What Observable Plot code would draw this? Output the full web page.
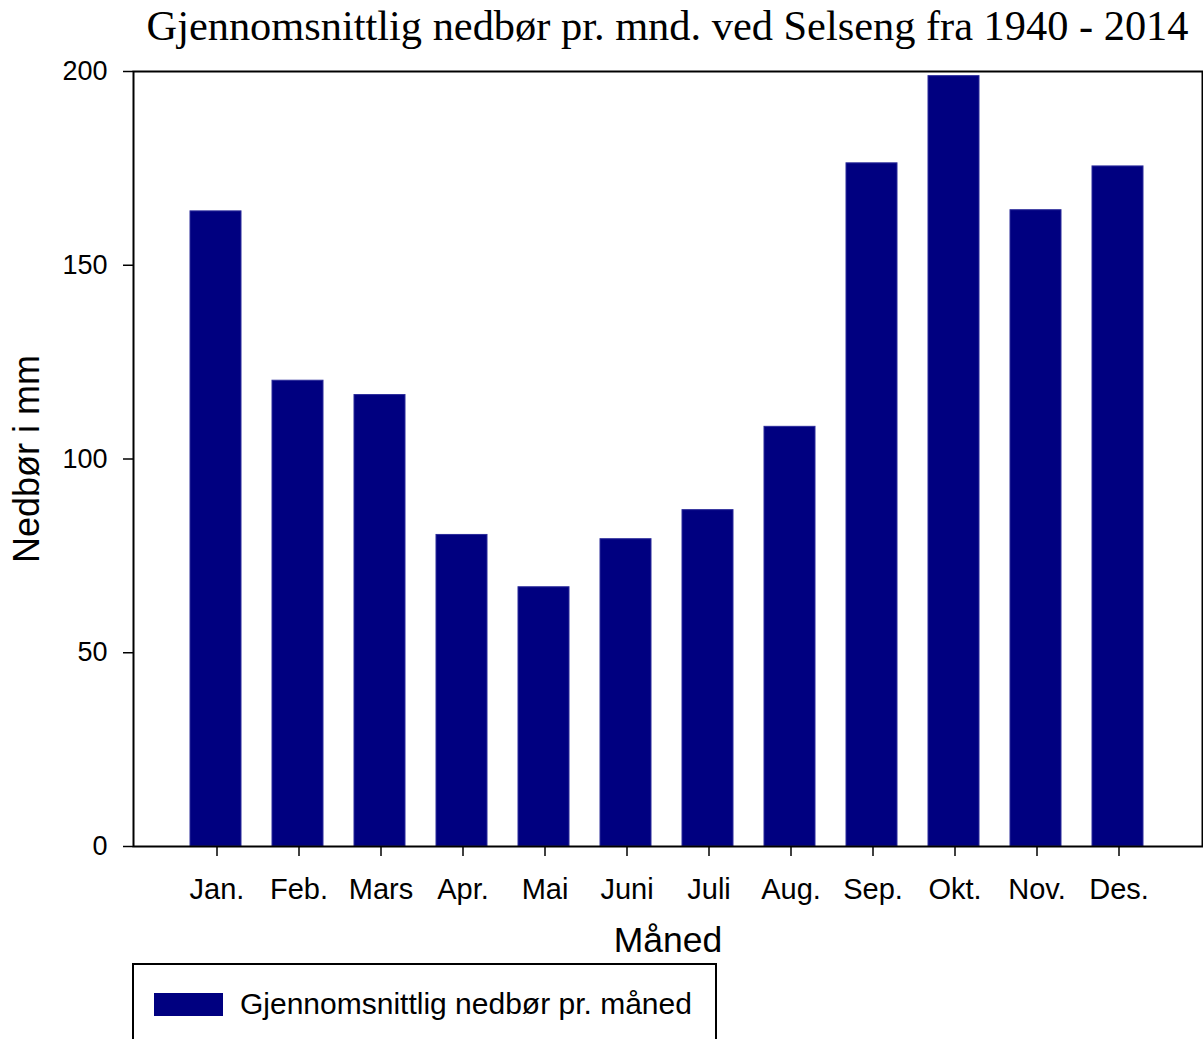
<!DOCTYPE html>
<html>
<head>
<meta charset="utf-8">
<script src="https://cdn.jsdelivr.net/npm/d3@7"></script>
<script src="https://cdn.jsdelivr.net/npm/@observablehq/plot@0.6"></script>
<style>
  html, body { margin: 0; padding: 0; background: #fff; overflow: hidden; }
  #wrap { position: relative; width: 1203px; height: 1039px; overflow: hidden; }
  #chart { position: absolute; left: 0; top: 0; }
  #title { position: absolute; left: 0; top: 1px; width: 1335px; text-align: center;
    font-family: "Liberation Serif", "Times New Roman", serif; font-size: 42.4px; color: #000; white-space: nowrap; }
  #legend { position: absolute; left: 132px; top: 963px; width: 585px; height: 100px;
    border: 2px solid #000; box-sizing: border-box; background: #fff; }
  #legend .sw { position: absolute; left: 20px; top: 28px; width: 69px; height: 23px; background: #000080; }
  #legend .lb { position: absolute; left: 106px; top: 21px; font-family: "Liberation Sans", Arial, sans-serif;
    font-size: 30px; line-height: 36px; color: #000; white-space: nowrap; }
</style>
</head>
<body>
<div id="wrap">
  <div id="chart"></div>
  <div id="title">Gjennomsnittlig nedbør pr. mnd. ved Selseng fra 1940 - 2014</div>
  <div id="legend"><div class="sw"></div><div class="lb">Gjennomsnittlig nedbør pr. måned</div></div>
</div>
<script>
const months = ["Jan.", "Feb.", "Mars", "Apr.", "Mai", "Juni", "Juli", "Aug.", "Sep.", "Okt.", "Nov.", "Des."];
const precipitation = [163.9, 120.2, 116.5, 80.4, 66.9, 79.3, 86.8, 108.3, 176.3, 198.8, 164.2, 175.5];
const yTicks = [0, 50, 100, 150, 200];
const seriesName = "Gjennomsnittlig nedbør pr. måned";
const xLabel = "Måned";
const yLabel = "Nedbør i mm";

const data = months.map((m, i) => ({month: m, value: precipitation[i]}));

const chart = Plot.plot({
  width: 1203,
  height: 960,
  marginLeft: 133,
  marginRight: 1,
  marginTop: 71,
  marginBottom: 114,
  style: {fontFamily: "'Liberation Sans', Arial, sans-serif", color: "#000", background: "transparent"},
  x: {domain: months, paddingInner: 0.38, paddingOuter: 0.69, label: null},
  y: {domain: [0, 200], label: null},
  marks: [
    Plot.barY(data, {x: "month", y: "value", fill: "#000080", stroke: "#2a2a9a", strokeWidth: 1, dx: -1}),
    Plot.frame({stroke: "#000", strokeWidth: 2}),
    Plot.axisY({ticks: yTicks, tickSize: 10, tickPadding: 16, fontSize: 27, strokeWidth: 1.5, label: null}),
    Plot.axisX({tickSize: 10, tickPadding: 22, fontSize: 29, strokeWidth: 1.5, label: null}),
    Plot.text([xLabel], {frameAnchor: "bottom", dy: 105, fontSize: 35.5, fill: "#000"}),
    Plot.text([yLabel], {frameAnchor: "left", textAnchor: "middle", dx: -106, rotate: -90, fontSize: 36, fill: "#000"})
  ]
});
document.getElementById("chart").appendChild(chart);
</script>
</body>
</html>
